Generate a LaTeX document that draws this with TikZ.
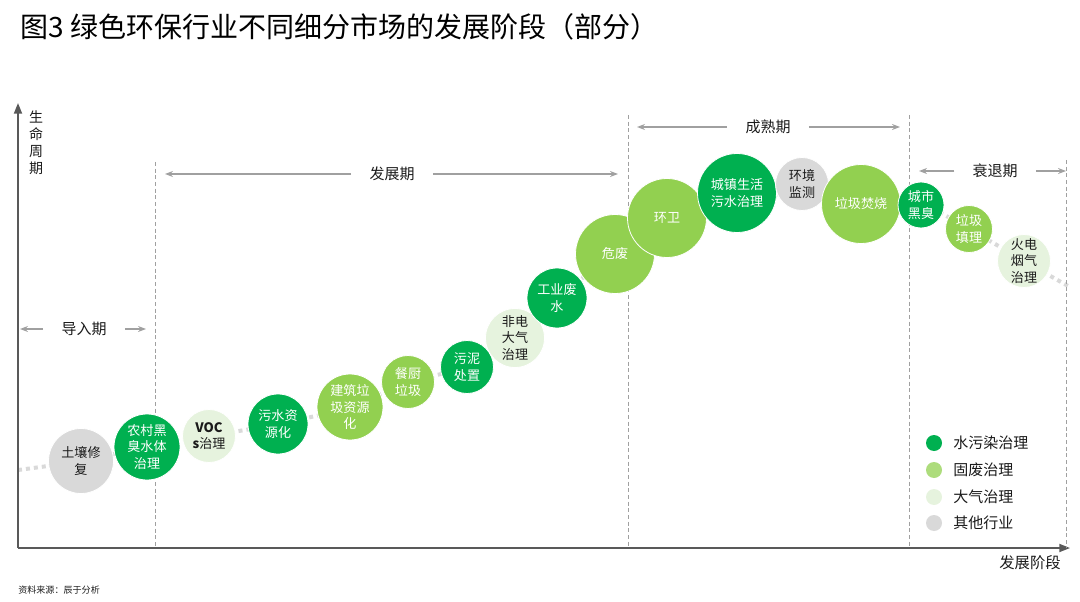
\documentclass[tikz,border=0pt]{standalone}
\usepackage{fontspec}
\setmainfont{Noto Sans CJK SC}
\usetikzlibrary{arrows.meta, backgrounds}
\definecolor{cwater}{HTML}{00B050}
\definecolor{cwaste}{HTML}{92D050}
\definecolor{cair}{HTML}{E6F3DE}
\definecolor{cmisc}{HTML}{D9D9D9}
\definecolor{caxis}{HTML}{595959}
\definecolor{carrow}{HTML}{A0A0A0}
\definecolor{ctext}{HTML}{1A1A1A}
\tikzset{
  bub/.style={circle, draw=white, line width=0.6pt, inner sep=0pt, minimum size=#1*0.75pt, align=center, font=\fontsize{9.8}{12.5}\selectfont},
  waterbub/.style={bub=#1, fill=cwater, text=white},
  wastebub/.style={bub=#1, fill=cwaste, text=white},
  airbub/.style={bub=#1, fill=cair, text=ctext},
  miscbub/.style={bub=#1, fill=cmisc, text=ctext},
  stagelabel/.style={inner xsep=13.5pt, inner ysep=0pt, font=\fontsize{11.25}{13}\selectfont, text=ctext},
  stagearrow/.style={draw=carrow, line width=1pt, -{Stealth[length=6pt, width=4.5pt]}},
  divider/.style={draw=carrow, line width=0.75pt, dash pattern=on 3pt off 2pt},
  axis/.style={draw=caxis, line width=1.3pt, -{Triangle[length=8pt, width=6pt]}},
  trend/.style={draw=cmisc, line width=3pt, dash pattern=on 3pt off 3pt},
  legdot/.style={circle, inner sep=0pt, minimum size=12pt, fill=#1},
  legtext/.style={anchor=west, inner sep=0pt, font=\fontsize{11.25}{13}\selectfont, text=ctext}
}

\begin{document}
\begin{tikzpicture}[x=0.75pt, y=-0.75pt]
    \useasboundingbox (0,0) rectangle (1080,602);
    \node (title) at (20,27) [anchor=west, inner sep=0pt, font=\fontsize{21}{24}\selectfont] {图3 绿色环保行业不同细分市场的发展阶段（部分）};
    \node (source) at (18,590) [anchor=west, inner sep=0pt, font=\fontsize{6.8}{8}\selectfont, text=ctext] {资料来源：辰于分析};

    \coordinate (origin) at (18,548);
    \coordinate (ytop) at (18,103);
    \coordinate (xend) at (1070,548);
    \draw[axis] (origin) -- (ytop);
    \draw[axis] (origin) -- (xend);
    \node (ylabel) at (36,143) [align=center, inner sep=0pt, font=\fontsize{10.5}{12.75}\selectfont, text=ctext] {生\\命\\周\\期};
    \node (xlabel) at (1030,563) [inner sep=0pt, font=\fontsize{11.5}{13}\selectfont, text=ctext] {发展阶段};

    \draw[divider] (155,162) -- (155,548);
    \draw[divider] (628,115) -- (628,548);
    \draw[divider] (909,115) -- (909,548);
    \draw[divider] (1066,160) -- (1066,548);

    \node (daoru) at (84,329) [stagelabel] {导入期};
    \coordinate (daoruL) at (20,329);
    \coordinate (daoruR) at (146,329);
    \draw[stagearrow] (daoru) -- (daoruL);
    \draw[stagearrow] (daoru) -- (daoruR);
    \node (fazhan) at (392,174) [stagelabel] {发展期};
    \coordinate (fazhanL) at (165,174);
    \coordinate (fazhanR) at (618,174);
    \draw[stagearrow] (fazhan) -- (fazhanL);
    \draw[stagearrow] (fazhan) -- (fazhanR);
    \node (chengshu) at (768,127) [stagelabel] {成熟期};
    \coordinate (chengshuL) at (637,127);
    \coordinate (chengshuR) at (900,127);
    \draw[stagearrow] (chengshu) -- (chengshuL);
    \draw[stagearrow] (chengshu) -- (chengshuR);
    \node (shuaitui) at (995,171) [stagelabel] {衰退期};
    \coordinate (shuaituiL) at (919,171);
    \coordinate (shuaituiR) at (1066,171);
    \draw[stagearrow] (shuaitui) -- (shuaituiL);
    \draw[stagearrow] (shuaitui) -- (shuaituiR);

    \node (turang)   at (81,461)   [miscbub=65]  {土壤修\\复};
    \node (nongcun)  at (147,447)  [waterbub=66] {农村黑\\臭水体\\治理};
    \node (voc)      at (209,436)  [airbub=53]   {\textbf{VOC}\\\textbf{s}治理};
    \node (wushui)   at (278,424)  [waterbub=60] {污水资\\源化};
    \node (jianzhu)  at (350,407)  [wastebub=66] {建筑垃\\圾资源\\化};
    \node (canchu)   at (408,382)  [wastebub=53] {餐厨\\垃圾};
    \node (wuni)     at (467,367)  [waterbub=53] {污泥\\处置};
    \node (feidian)  at (515,338)  [airbub=59]   {非电\\大气\\治理};
    \node (gongye)   at (557,298)  [waterbub=60] {工业废\\水};
    \node (weifei)   at (615,254)  [wastebub=79] {危废};
    \node (huanwei)  at (667,218)  [wastebub=79] {环卫};
    \node (chengzhen) at (737,193) [waterbub=79] {城镇生活\\污水治理};
    \node (jiance)   at (802,184)  [miscbub=53]  {环境\\监测};
    \node (fenshao)  at (861,204)  [wastebub=79] {垃圾焚烧};
    \node (heichou)  at (921,205)  [waterbub=46] {城市\\黑臭};
    \node (tianli)   at (969,229)  [wastebub=47] {垃圾\\填理};
    \node (huodian)  at (1024,261) [airbub=53]   {火电\\烟气\\治理};

    \coordinate (trendstart) at (18,470);
    \coordinate (trendend) at (1068,286);
    \begin{scope}[on background layer]
        \draw[trend] plot[smooth, tension=0.5] coordinates {(trendstart) (turang.center) (nongcun.center) (voc.center) (wushui.center) (jianzhu.center) (canchu.center) (wuni.center) (feidian.center) (gongye.center) (weifei.center) (huanwei.center) (chengzhen.center) (fenshao.center) (heichou.center) (tianli.center) (huodian.center) (trendend)};
    \end{scope}

    \node (leg1) at (934,443) [legdot=cwater] {};
    \node (leg2) at (934,470) [legdot=cwaste!75] {};
    \node (leg3) at (934,497) [legdot=cair] {};
    \node (leg4) at (934,523) [legdot=cmisc] {};
    \node (legtext1) at (953,443) [legtext] {水污染治理};
    \node (legtext2) at (953,470) [legtext] {固废治理};
    \node (legtext3) at (953,497) [legtext] {大气治理};
    \node (legtext4) at (953,523) [legtext] {其他行业};
\end{tikzpicture}
\end{document}
